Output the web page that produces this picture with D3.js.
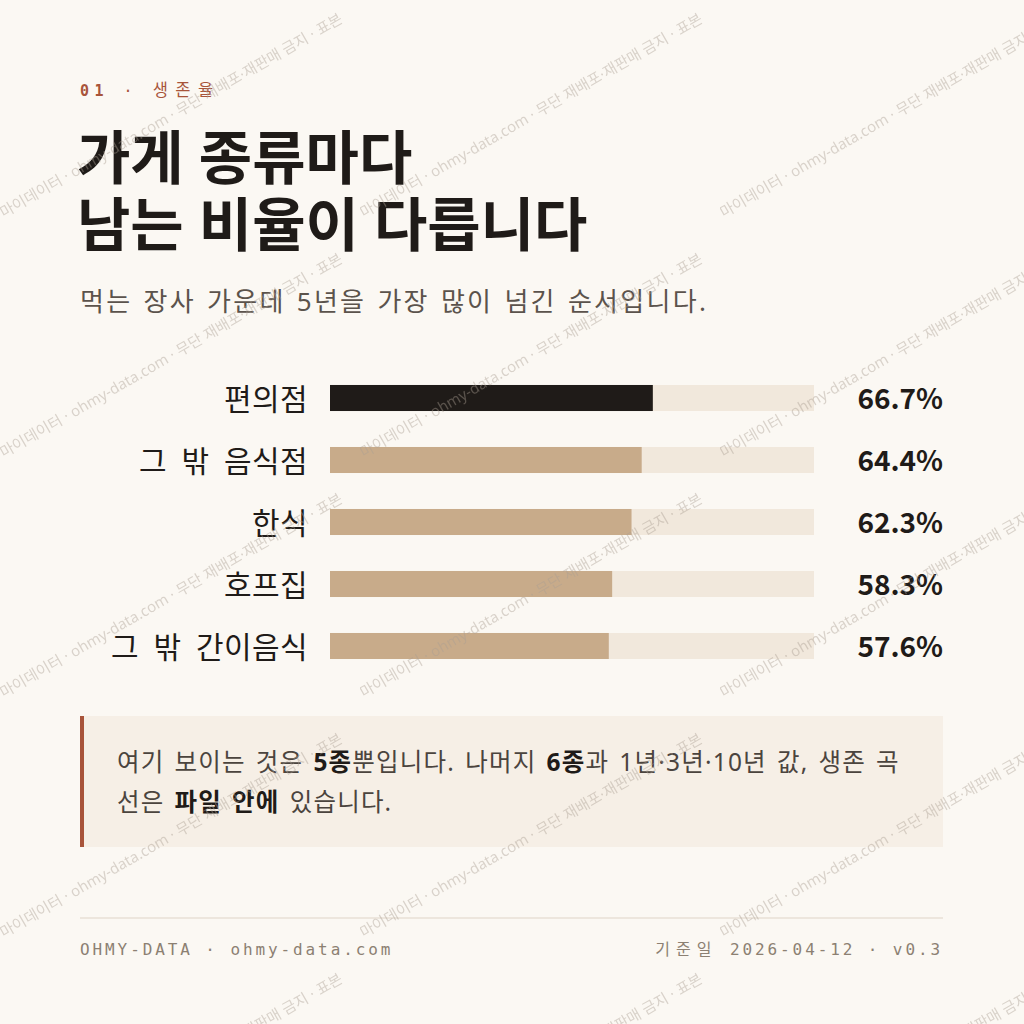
<!DOCTYPE html>
<html>
<head>
<meta charset="utf-8">
<script src="https://cdn.jsdelivr.net/npm/d3@7"></script>
<style>
  html, body { margin: 0; padding: 0; background: #fbf8f3; }
  svg { display: block; }
</style>
</head>
<body>
<svg id="chart" width="1024" height="1024"></svg>
<script>
// Data
const categories = ["편의점", "그 밖 음식점", "한식", "호프집", "그 밖 간이음식"];
const survival5y = [66.7, 64.4, 62.3, 58.3, 57.6];
const highlight = ["편의점"];

const kicker = ["01", " · ", "생존율"];
const titleLines = ["가게 종류마다", "남는 비율이 다릅니다"];
const subtitle = "먹는 장사 가운데 5년을 가장 많이 넘긴 순서입니다.";
const noteLines = [
  [["여기 보이는 것은 ", false], ["5종", true], ["뿐입니다. 나머지 ", false], ["6종", true], ["과 1년·3년·10년 값, 생존 곡", false]],
  [["선은 ", false], ["파일 안에", true], [" 있습니다.", false]]
];
const footerLeft = "OHMY-DATA · ohmy-data.com";
const footerRight = ["기준일", " 2026-04-12 · v0.3"];
const watermark = "· 마이데이터 · ohmy-data.com · 무단 재배포·재판매 금지 · 표본";

const rows = categories.map((c, i) => ({ name: c, value: survival5y[i] }));

const sans = "'Noto Sans', 'Noto Sans CJK KR', sans-serif";
const mono = "'DejaVu Sans Mono', 'Noto Sans CJK KR', monospace";
const ink = "#1f1b18";

const svg = d3.select("#chart");

// background
svg.append("rect").attr("width", 1024).attr("height", 1024).attr("fill", "#fbf8f3");

// header
svg.append("text")
    .attr("x", 80).attr("y", 96)
    .attr("font-family", mono).attr("font-size", 15)
    .attr("letter-spacing", 5.5).attr("fill", "#a8543a")
    .selectAll("tspan").data(kicker).join("tspan")
    .attr("font-weight", (d, i) => i === 0 ? 700 : 400)
    .attr("font-size", (d, i) => i === 2 ? 16.5 : null)
    .attr("letter-spacing", (d, i) => i === 2 ? 7.5 : null)
    .text(d => d);

// title: one text, two lines
svg.append("text")
    .attr("font-family", sans).attr("font-size", 58).attr("font-weight", 700)
    .attr("fill", ink)
    .selectAll("tspan").data(titleLines).join("tspan")
    .attr("x", 77).attr("y", (d, i) => 179 + i * 67)
    .text(d => d);

svg.append("text")
    .attr("x", 80).attr("y", 311)
    .attr("font-family", sans).attr("font-size", 26).attr("font-weight", 400)
    .attr("letter-spacing", 2.3).attr("word-spacing", 2).attr("fill", "#5b534c")
    .text(subtitle);

// scales
const x = d3.scaleLinear().domain([0, 100]).range([330, 814]);
const y = d3.scaleBand().domain(categories).range([367, 677]).paddingInner(0.58).paddingOuter(0.29);

const g = svg.append("g");

g.selectAll(".track").data(rows).join("rect")
    .attr("class", "track")
    .attr("x", x(0)).attr("y", d => y(d.name))
    .attr("width", x(100) - x(0)).attr("height", y.bandwidth())
    .attr("fill", "#f1e8dc");

g.selectAll(".bar").data(rows).join("rect")
    .attr("class", "bar")
    .attr("x", x(0)).attr("y", d => y(d.name))
    .attr("width", d => x(d.value) - x(0)).attr("height", y.bandwidth())
    .attr("fill", d => highlight.includes(d.name) ? ink : "#c8ab8a");

g.selectAll(".label").data(rows).join("text")
    .attr("class", "label")
    .attr("x", 308).attr("y", d => y(d.name) + y.bandwidth() / 2 + 12)
    .attr("text-anchor", "end")
    .attr("font-family", sans).attr("font-size", 30)
    .attr("letter-spacing", 0.4).attr("word-spacing", 6.3).attr("fill", ink)
    .text(d => d.name);

g.selectAll(".value").data(rows).join("text")
    .attr("class", "value")
    .attr("x", 943).attr("y", d => y(d.name) + y.bandwidth() / 2 + 11)
    .attr("text-anchor", "end")
    .attr("font-family", "'Noto Sans CJK KR', sans-serif")
    .attr("font-size", 28).attr("font-weight", 700).attr("fill", ink)
    .text(d => d.value.toFixed(1) + "%");

// note box
svg.append("rect").attr("x", 80).attr("y", 716).attr("width", 863).attr("height", 131).attr("fill", "#f6efe6");
svg.append("rect").attr("x", 80).attr("y", 716).attr("width", 4).attr("height", 131).attr("fill", "#a8543a");

svg.append("g").selectAll("text").data(noteLines).join("text")
    .attr("x", 117).attr("y", (d, i) => 771 + i * 40)
    .attr("font-family", sans).attr("font-size", 24.5)
    .attr("letter-spacing", 1.2).attr("word-spacing", 2.5).attr("fill", "#4b443e")
    .selectAll("tspan").data(d => d).join("tspan")
    .attr("font-weight", d => d[1] ? 700 : 400)
    .attr("fill", d => d[1] ? ink : null)
    .text(d => d[0]);

// footer
svg.append("line").attr("x1", 80).attr("x2", 943).attr("y1", 918).attr("y2", 918)
    .attr("stroke", "#e9e1d6").attr("stroke-width", 1.5);

svg.append("text").attr("x", 80).attr("y", 955)
    .attr("font-family", mono).attr("font-size", 16).attr("letter-spacing", 2.9)
    .attr("fill", "#8c8072").text(footerLeft);

svg.append("text").attr("x", 943).attr("y", 955).attr("text-anchor", "end")
    .attr("font-family", mono).attr("font-size", 16).attr("letter-spacing", 2.9)
    .attr("fill", "#8c8072")
    .selectAll("tspan").data(footerRight).join("tspan")
    .attr("letter-spacing", (d, i) => i === 0 ? 6 : null)
    .text(d => d);

// watermark tiles
const pat = svg.append("defs").append("pattern")
    .attr("id", "wm").attr("patternUnits", "userSpaceOnUse")
    .attr("width", 360).attr("height", 240);
pat.append("text")
    .attr("transform", "translate(-3,222) rotate(-30)")
    .attr("font-family", sans).attr("font-size", 15)
    .attr("fill", "#a99e92").attr("fill-opacity", 0.42)
    .text(watermark);

svg.append("rect").attr("width", 1024).attr("height", 1024).attr("fill", "url(#wm)")
    .attr("pointer-events", "none");
</script>
</body>
</html>
